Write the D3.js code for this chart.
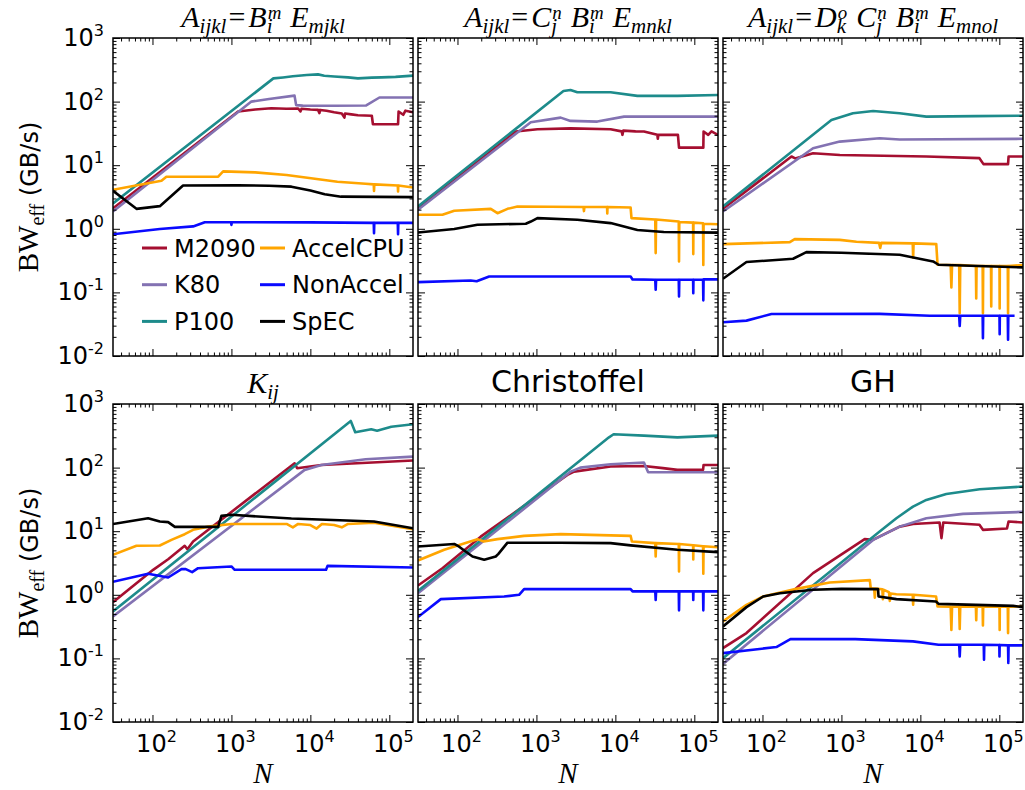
<!DOCTYPE html>
<html>
<head>
<meta charset="utf-8">
<script src="https://cdn.jsdelivr.net/npm/d3@7"></script>
<style>
  body { margin: 0; background: #fff; }
  svg { display: block; }
</style>
</head>
<body>
<script>
// series names in plotting order (legend is column-major, 2 columns)
const seriesNames = ['M2090', 'K80', 'P100', 'AccelCPU', 'NonAccel', 'SpEC'];

// panel titles: math ones are lists of parts, plain ones are strings
const panelTitles = [
  [{b: 'A'}, {sub: 'ijkl'}, {op: '='}, {b: 'B'}, {sup: 'm', sub: 'i'}, {b: 'E'}, {sub: 'mjkl'}],
  [{b: 'A'}, {sub: 'ijkl'}, {op: '='}, {b: 'C'}, {sup: 'n', sub: 'j'}, {b: 'B'}, {sup: 'm', sub: 'i'}, {b: 'E'}, {sub: 'mnkl'}],
  [{b: 'A'}, {sub: 'ijkl'}, {op: '='}, {b: 'D'}, {sup: 'o', sub: 'k'}, {b: 'C'}, {sup: 'n', sub: 'j'}, {b: 'B'}, {sup: 'm', sub: 'i'}, {b: 'E'}, {sub: 'mnol'}],
  [{b: 'K'}, {sub: 'ij'}],
  'Christoffel',
  'GH',
];

const xMajor = [1e2, 1e3, 1e4, 1e5];
const yMajor = [1e-2, 1e-1, 1e0, 1e1, 1e2, 1e3];

// [N, BW_eff (GB/s)] for each of the six panels
const M2090 = [
  [[31.6,2.1],[1215,70],[2000,75],[3200,78.5],[5000,77],[7000,78],[7500,70],[7700,77],[10000,75],[12500,74],[13000,66],[13300,74],[16000,72],[20000,68],[25000,65],[27000,56],[27500,65],[33000,63],[40000,61],[60000,60],[62000,44],[129000,44],[131000,70],[150000,62],[160000,72],[199500,68]],
  [[31.6,2.06],[547,33.8],[1030,36.8],[2720,38],[8700,36.8],[12000,34],[12300,30],[12600,35],[18000,34],[23000,33.8],[34000,30],[34500,26],[35000,30],[62000,30],[64000,18.9],[130000,18.9],[131000,33.8],[150000,30],[165000,34],[199500,30]],
  [[31.6,2.06],[233,13.7],[260,12.8],[437,15.4],[953,14.5],[11900,13.7],[56000,12.9],[63000,10.4],[129000,10.4],[131000,13.7],[199500,13.7]],
  [[31.6,0.767],[102,2.47],[158,3.63],[256,5.89],[277,5.2],[327,6.9],[6320,117],[6800,97.6],[13800,110],[199500,129]],
  [[31.6,1.4],[64.5,2.62],[197,8.2],[2470,76.7],[3000,86.5],[8700,104],[23000,106],[40000,98],[61000,92],[129000,92],[131000,110],[199500,110]],
  [[31.6,0.145],[62.7,0.25],[437,2.19],[1970,7.5],[2500,7.3],[3720,9.3],[5470,11.8],[8070,13],[17500,13.7],[18500,7.76],[19500,13.7],[56000,12.6],[62000,10.5],[125000,11],[131000,14.2],[199500,13.7]],
];

const K80 = [
  [[31.6,1.87],[1790,100],[3000,110],[6300,124],[6600,88],[8000,86.5],[20000,86],[51000,87],[75000,116],[199500,116]],
  [[31.6,1.99],[848,47.3],[2030,56],[2700,49.7],[5900,48.5],[12900,58],[199500,58]],
  [[31.6,1.87],[437,18.5],[953,23.5],[3050,26.6],[5470,25.3],[199500,26]],
  [[31.6,0.457],[8470,92],[13800,110],[50000,135],[199500,149]],
  [[31.6,1.06],[2720,86.5],[3600,100],[8700,113],[23000,120],[26000,84.5],[199500,84.5]],
  [[31.6,0.082],[2520,7.3],[5470,11.8],[11900,16],[34700,18.7],[199500,20.1]],
];

const P100 = [
  [[31.6,2.5],[3400,232],[4500,240],[6000,250],[9000,262],[12500,268],[15000,255],[20000,248],[30000,240],[40000,232],[60000,238],[80000,240],[120000,245],[199500,256]],
  [[31.6,2.24],[2200,147],[2700,152],[3300,140],[8700,140],[19000,123],[61000,123],[199500,127]],
  [[31.6,2.24],[747,51.5],[1400,65.6],[2520,71.3],[5470,65.6],[11900,58],[50000,59],[199500,60]],
  [[31.6,0.547],[32500,541],[37000,359],[59000,400],[70000,380],[106000,440],[199500,480]],
  [[31.6,1.15],[8300,299],[9500,334],[23000,318],[61000,299],[199500,318]],
  [[31.6,0.101],[3050,9.9],[4970,16],[8070,24.4],[11900,31],[21300,38.5],[56400,45.7],[199500,50.4]],
];

const AccelCPU = [
  [[31.6,4.1],[130,5.7],[150,6.6],[680,6.6],[785,8.0],[2000,7.7],[5000,7.0],[10200,6.25],[22000,5.5],[50000,5.1],[63500,5.0],[64000,3.95],[64500,5.0],[128000,4.8],[129000,3.87],[130000,4.8],[199500,4.45]],
  [[31.6,1.66],[64.5,1.66],[91,1.92],[264,2.06],[321,1.76],[430,2.06],[575,2.24],[3950,2.2],[4000,1.9],[4050,2.2],[7850,2.2],[7900,1.75],[7950,2.2],[15600,2.16],[16000,1.47],[32000,1.4],[32400,0.415],[32800,1.4],[63500,1.3],[64000,0.307],[64500,1.28],[96500,1.25],[97000,0.4],[97500,1.25],[129000,1.22],[130000,0.27],[131000,1.2],[199500,1.18]],
  [[31.6,0.574],[222,0.618],[256,0.689],[953,0.67],[1550,0.625],[3000,0.6],[3100,0.5],[3200,0.6],[8000,0.59],[8100,0.35],[8200,0.59],[15900,0.574],[16500,0.272],[24200,0.27],[24700,0.12],[25200,0.27],[31000,0.27],[31500,0.047],[32000,0.27],[50500,0.26],[51000,0.08],[51500,0.26],[61500,0.26],[62000,0.047],[62500,0.26],[78500,0.26],[79000,0.06],[79500,0.26],[100500,0.26],[101000,0.056],[101500,0.26],[128000,0.26],[129000,0.047],[130000,0.26],[199500,0.27]],
  [[31.6,4.25],[62.7,5.89],[124,5.96],[174,7.3],[256,8.97],[327,10.5],[507,11.8],[1000,13],[5000,13],[6000,11.5],[7000,13],[10000,12.5],[12000,11],[14000,13],[20000,12.5],[25000,11.5],[30000,13],[64000,13.6],[199500,10.7]],
  [[31.6,3.46],[68,5.1],[179,7.5],[215,6.9],[321,7.5],[698,8.45],[2030,9.0],[15600,8.45],[16200,6.9],[32000,6.5],[32400,4.0],[32800,6.5],[63500,6.3],[64000,2.32],[64500,6.3],[96500,6.0],[97000,3.6],[97500,6.0],[129000,5.8],[130000,2.14],[131000,5.8],[199500,5.6]],
  [[31.6,0.381],[62.7,0.696],[102,0.94],[269,1.24],[711,1.56],[2290,1.7],[2350,1.27],[2600,1.25],[2650,0.9],[2700,1.25],[3300,1.22],[3350,0.85],[3400,1.2],[4000,1.1],[4100,0.8],[4200,1.05],[4970,1.02],[8000,1.0],[8100,0.7],[8200,1.0],[15800,0.94],[16500,0.656],[24200,0.65],[24700,0.28],[25200,0.65],[31000,0.65],[31500,0.29],[32000,0.65],[50500,0.65],[51000,0.4],[51500,0.65],[61500,0.65],[62000,0.33],[62500,0.65],[100500,0.65],[101000,0.28],[101500,0.65],[128000,0.65],[129000,0.25],[130000,0.65],[199500,0.656]],
];

const NonAccel = [
  [[31.6,0.82],[124,0.99],[327,1.09],[460,1.27],[990,1.27],[1000,1.15],[1010,1.27],[10000,1.26],[63500,1.24],[64000,0.85],[64500,1.24],[128000,1.24],[129000,0.82],[130000,1.24],[199500,1.24]],
  [[31.6,0.145],[147,0.154],[175,0.15],[252,0.178],[15600,0.178],[16500,0.16],[32000,0.158],[32400,0.11],[32800,0.158],[63500,0.158],[64000,0.0865],[64500,0.158],[96500,0.158],[97000,0.097],[97500,0.158],[129000,0.158],[130000,0.075],[131000,0.16],[199500,0.16]],
  [[31.6,0.034],[62.7,0.036],[130,0.0457],[3050,0.046],[13100,0.043],[31000,0.043],[31500,0.0296],[32000,0.043],[61500,0.043],[62000,0.019],[62500,0.043],[100500,0.043],[101000,0.022],[101500,0.043],[128000,0.043],[129000,0.018],[130000,0.043],[156000,0.043]],
  [[31.6,1.6],[88,2.14],[158,1.87],[233,2.53],[260,2.55],[318,2.27],[378,2.62],[1000,2.79],[1100,2.47],[15800,2.47],[16500,2.85],[199500,2.69]],
  [[31.6,0.446],[61.5,0.855],[390,0.94],[603,1.0],[698,1.23],[15600,1.23],[16500,1.13],[32000,1.13],[32400,0.83],[32800,1.13],[63500,1.13],[64000,0.57],[64500,1.13],[96500,1.13],[97000,0.83],[97500,1.13],[129000,1.13],[130000,0.57],[131000,1.13],[199500,1.13]],
  [[31.6,0.121],[150,0.151],[226,0.201],[1500,0.201],[8070,0.185],[17000,0.164],[31000,0.164],[31500,0.107],[32000,0.164],[63500,0.164],[64000,0.095],[64500,0.164],[100000,0.162],[100500,0.107],[101000,0.162],[129000,0.16],[130000,0.085],[131000,0.16],[199500,0.16]],
];

const SpEC = [
  [[31.6,3.95],[62.7,2.06],[124,2.27],[244,4.8],[1215,4.85],[3000,4.75],[5750,4.6],[10000,4.0],[15200,3.5],[24500,3.2],[199500,3.15]],
  [[31.6,0.875],[91,0.99],[179,1.16],[733,1.2],[850,1.3],[1030,1.47],[3300,1.39],[8700,1.23],[19000,0.96],[41000,0.89],[199500,0.87]],
  [[31.6,0.164],[62.7,0.30],[244,0.338],[360,0.43],[1000,0.42],[5470,0.39],[14500,0.307],[17000,0.272],[199500,0.247]],
  [[31.6,13],[88,16],[124,14.2],[158,13.9],[192,11.7],[678,11.7],[747,17.4],[1000,18.1],[5750,15.8],[15800,15.1],[64000,14.2],[199500,11.1]],
  [[31.6,5.74],[91,6.3],[105,5.7],[155,4.0],[218,3.55],[305,4.0],[330,4.4],[430,6.6],[2000,6.6],[8700,6.5],[15600,5.98],[61000,5.1],[199500,4.68]],
  [[31.6,0.318],[62.7,0.64],[102,0.94],[166,1.06],[437,1.2],[1000,1.24],[2910,1.23],[2950,0.94],[4970,0.855],[15800,0.785],[17000,0.72],[150000,0.67],[199500,0.64]],
];

const seriesData = [M2090, K80, P100, AccelCPU, NonAccel, SpEC];
const colors = ['#a50f30', '#8372b2', '#1d8b8b', '#ffa500', '#0a0aff', '#000000'];

const W = 1025, H = 790;
const colX = [113, 418, 723];
const rowY = [38, 404];
const pw = 300, ph = 318;
const sansFont = '"DejaVu Sans", sans-serif';
const serifFont = '"Liberation Serif", "DejaVu Serif", serif';

const svg = d3.select('body').append('svg')
  .attr('width', W)
  .attr('height', H)
  .style('font-family', sansFont);

const x = d3.scaleLog().domain([31.62, 199500]).range([0, pw]);
const y = d3.scaleLog().domain([0.01, 1000]).range([ph, 0]);

// minor ticks 2..9 in each decade inside the domain
function minorTicks(scale, from, to) {
  const out = [];
  const [lo, hi] = scale.domain();
  for (let e = from; e <= to; e++) {
    for (let m = 2; m <= 9; m++) {
      const v = m * Math.pow(10, e);
      if (v > lo && v < hi) out.push(v);
    }
  }
  return out;
}
const xMinor = minorTicks(x, 1, 5);
const yMinor = minorTicks(y, -2, 2);

/**
 * write "10^e" as text with a raised exponent
 */
function powText(sel, v) {
  const e = Math.round(Math.log10(v));
  sel.text('10');
  sel.append('tspan')
    .attr('dy', -10)
    .attr('font-size', 16)
    .text(e < 0 ? '-' + (-e) : String(e));
}

/**
 * lay out a mathtext-like title, centred on cx
 */
function mathTitle(g, cx, base, parts, size) {
  const t = g.append('g').style('font-family', serifFont);
  let xpos = 0;
  const small = size * 0.7;
  parts.forEach((p) => {
    if (p.b !== undefined) {
      const e = t.append('text').attr('x', xpos).attr('y', base)
        .attr('font-size', size).attr('font-style', 'italic').text(p.b);
      xpos += e.node().getComputedTextLength();
    } else if (p.op !== undefined) {
      xpos += 2;
      const e = t.append('text').attr('x', xpos).attr('y', base)
        .attr('font-size', size).text(p.op);
      xpos += e.node().getComputedTextLength() + 3;
    } else {
      let w = 0;
      if (p.sup !== undefined) {
        const e = t.append('text').attr('x', xpos + 1).attr('y', base - size * 0.27)
          .attr('font-size', size * 0.63).attr('font-style', 'italic').text(p.sup);
        w = Math.max(w, e.node().getComputedTextLength() + 1);
      }
      if (p.sub !== undefined) {
        const e = t.append('text').attr('x', xpos).attr('y', base + size * 0.2)
          .attr('font-size', small).attr('font-style', 'italic').text(p.sub);
        w = Math.max(w, e.node().getComputedTextLength());
      }
      xpos += w;
      if (p.sup !== undefined) xpos += size * 0.3;
    }
  });
  t.attr('transform', `translate(${cx - xpos / 2},0)`);
}

const line = d3.line()
  .x((d) => x(d[0]))
  .y((d) => y(d[1]));

for (let p = 0; p < 6; p++) {
  const row = Math.floor(p / 3);
  const col = p % 3;
  const g = svg.append('g')
    .attr('transform', `translate(${colX[col]},${rowY[row]})`);

  g.append('clipPath').attr('id', 'clip' + p)
    .append('rect').attr('width', pw).attr('height', ph);

  // data lines
  const lines = g.append('g').attr('clip-path', `url(#clip${p})`);
  seriesData.forEach((s, i) => {
    lines.append('path')
      .datum(s[p])
      .attr('fill', 'none')
      .attr('stroke', colors[i])
      .attr('stroke-width', 2.6)
      .attr('stroke-linejoin', 'round')
      .attr('d', line);
  });

  // ticks on all four sides, pointing inwards
  const axes = [
    [d3.axisBottom(x), `translate(0,${ph})`, xMajor, xMinor],
    [d3.axisTop(x), 'translate(0,0)', xMajor, xMinor],
    [d3.axisLeft(y), 'translate(0,0)', yMajor, yMinor],
    [d3.axisRight(y), `translate(${pw},0)`, yMajor, yMinor],
  ];
  axes.forEach(([ax, tr, major, minor]) => {
    g.append('g').attr('transform', tr)
      .call(ax.tickValues(major).tickSize(-7).tickFormat(''))
      .call((a) => a.select('.domain').remove())
      .selectAll('line').attr('stroke', '#000').attr('stroke-width', 1);
    g.append('g').attr('transform', tr)
      .call(ax.tickValues(minor).tickSize(-3.5).tickFormat(''))
      .call((a) => a.select('.domain').remove())
      .selectAll('line').attr('stroke', '#000').attr('stroke-width', 1);
  });

  g.append('rect')
    .attr('width', pw).attr('height', ph)
    .attr('fill', 'none').attr('stroke', '#000').attr('stroke-width', 1.5);

  // tick labels
  if (col === 0) {
    yMajor.forEach((v) => {
      g.append('text')
        .attr('x', -9).attr('y', y(v) + 8)
        .attr('text-anchor', 'end')
        .attr('font-size', 24)
        .call(powText, v);
    });
  }
  if (row === 1) {
    xMajor.forEach((v) => {
      g.append('text')
        .attr('x', x(v) + 4).attr('y', ph + 30)
        .attr('text-anchor', 'middle')
        .attr('font-size', 24)
        .call(powText, v);
    });
    g.append('text')
      .attr('x', pw / 2).attr('y', ph + 61)
      .attr('text-anchor', 'middle')
      .attr('font-size', 29).attr('font-style', 'italic')
      .style('font-family', serifFont)
      .text('N');
  }

  // title
  const ttl = panelTitles[p];
  if (typeof ttl === 'string') {
    g.append('text')
      .attr('x', pw / 2).attr('y', -12)
      .attr('text-anchor', 'middle')
      .attr('font-size', 30)
      .text(ttl);
  } else {
    mathTitle(g, pw / 2, -11, ttl, 30);
  }
}

// y axis labels
rowY.forEach((ry) => {
  const t = svg.append('text')
    .attr('transform', `translate(38,${ry + ph / 2}) rotate(-90)`)
    .attr('text-anchor', 'middle');
  t.append('tspan').style('font-family', serifFont).attr('font-size', 29).text('BW');
  t.append('tspan').style('font-family', serifFont).attr('font-size', 20).attr('dy', 6).text('eff');
  t.append('tspan').attr('font-size', 24).attr('dy', -6).text(' (GB/s)');
});

// legend in the first panel, two columns
const legend = svg.append('g').attr('transform', `translate(${colX[0]},${rowY[0]})`);
seriesNames.forEach((name, i) => {
  const c = Math.floor(i / 3);
  const r = i % 3;
  const lx = 29 + c * 118;
  const ly = 210 + r * 36.7;
  legend.append('line')
    .attr('x1', lx).attr('x2', lx + 25)
    .attr('y1', ly).attr('y2', ly)
    .attr('stroke', colors[i]).attr('stroke-width', 3);
  legend.append('text')
    .attr('x', lx + 32).attr('y', ly + 8.5)
    .attr('font-size', 24)
    .text(name);
});
</script>
</body>
</html>
